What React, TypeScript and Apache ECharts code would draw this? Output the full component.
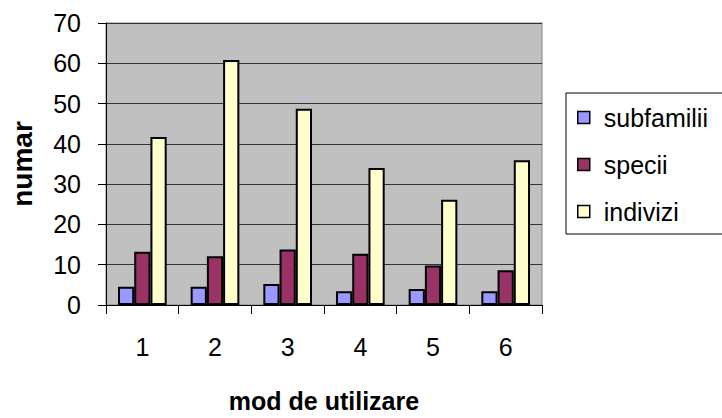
import React, { useEffect, useRef } from "react";
import * as echarts from "echarts";

const categories = ["1", "2", "3", "4", "5", "6"];
const subfamilii = [4.5, 4.5, 5.2, 3.4, 4.0, 3.4];
const specii = [13.2, 12.1, 13.8, 12.7, 9.8, 8.6];
const indivizi = [41.7, 60.8, 48.7, 34.0, 26.1, 35.9];
const seriesNames = ["subfamilii", "specii", "indivizi"];
const seriesColors = ["#9999ff", "#993366", "#ffffcc"];

const FONT = "'Liberation Sans', Arial, sans-serif";

export default function App() {
  const ref = useRef<HTMLDivElement>(null);
  useEffect(() => {
    if (!ref.current) return;
    const chart = echarts.init(ref.current, undefined, { renderer: "svg" });
    const data = [subfamilii, specii, indivizi];
    chart.setOption({
      animation: false,
      backgroundColor: "#ffffff",
      textStyle: { fontFamily: FONT, color: "#000" },
      grid: {
        left: 103,
        right: 180,
        top: 23,
        bottom: 108,
        show: true,
        backgroundColor: "#c0c0c0",
        borderColor: "#808080",
        borderWidth: 1,
      },
      legend: {
        orient: "vertical",
        left: 566,
        top: 93,
        data: seriesNames,
        backgroundColor: "#ffffff",
        borderColor: "#000",
        borderWidth: 1,
        padding: [12, 60, 10, 11],
        itemGap: 22,
        itemWidth: 12,
        itemHeight: 12,
        icon: "rect",
        itemStyle: { borderColor: "#000", borderWidth: 1.5 },
        textStyle: { fontSize: 25, fontFamily: FONT, color: "#000", padding: [0, 0, 0, 9] },
      },
      xAxis: {
        type: "category",
        data: categories,
        name: "mod de utilizare",
        nameLocation: "middle",
        nameGap: 83,
        nameTextStyle: { fontSize: 25, fontWeight: "bold", fontFamily: FONT, color: "#000" },
        axisLine: { lineStyle: { color: "#000", width: 1 } },
        axisTick: { show: true, length: 9, lineStyle: { color: "#000" } },
        axisLabel: { fontSize: 25, margin: 29, color: "#000", fontFamily: FONT },
        splitLine: { show: false },
      },
      yAxis: {
        type: "value",
        min: 0,
        max: 70,
        interval: 10,
        name: "numar",
        nameLocation: "middle",
        nameRotate: 90,
        nameGap: 70,
        nameTextStyle: { fontSize: 28, fontWeight: "bold", fontFamily: FONT, color: "#000" },
        axisLine: { show: true, lineStyle: { color: "#000", width: 1 } },
        axisTick: { show: true, length: 8, lineStyle: { color: "#000" } },
        axisLabel: { fontSize: 25, margin: 25, color: "#000", fontFamily: FONT },
        splitLine: { show: true, lineStyle: { color: "#333", width: 1 } },
      },
      series: seriesNames.map((name, i) => ({
        name,
        type: "bar",
        data: data[i],
        barGap: "0%",
        barCategoryGap: "33%",
        itemStyle: { color: seriesColors[i], borderColor: "#000", borderWidth: 2 },
      })),
    });
    return () => chart.dispose();
  }, []);
  return (
    <div
      ref={ref}
      style={{ position: "fixed", left: 0, top: 0, width: 722, height: 418 }}
    />
  );
}
